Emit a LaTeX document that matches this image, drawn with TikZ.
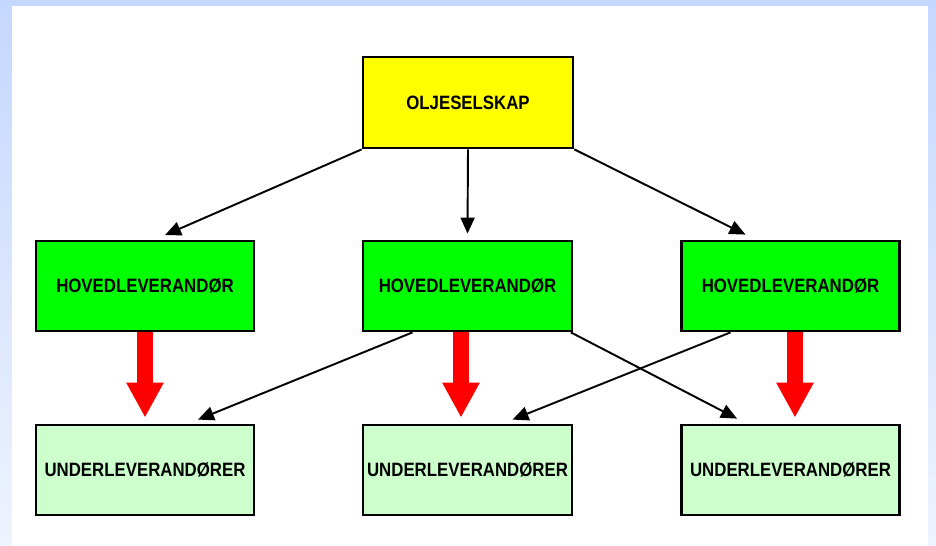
\documentclass[tikz,border=0pt]{standalone}
\usepackage{fontspec}
\setmainfont{Liberation Sans}[FakeStretch=0.87]
\usetikzlibrary{arrows.meta,positioning}
\definecolor{frametop}{HTML}{C4D7FE}
\definecolor{framebot}{HTML}{EEF3FE}
\definecolor{oilyellow}{HTML}{FFFF00}
\definecolor{maingreen}{HTML}{00FF00}
\definecolor{subgreen}{HTML}{CCFFCC}
\begin{document}
\begin{tikzpicture}[x=0.02cm,y=-0.02cm,
  box/.style={draw=black,line width=1.6pt,inner sep=0pt,
    font=\fontsize{11}{13}\selectfont\bfseries},
  oil/.style={box,fill=oilyellow,minimum width=4.2cm,minimum height=1.82cm},
  main/.style={box,fill=maingreen,minimum height=1.8cm},
  sub/.style={box,fill=subgreen,minimum height=1.8cm},
  link/.style={line width=1.1pt,-{Triangle[length=0.32cm,width=0.28cm]}},
  push/.style={red,line width=0.33cm,-{Triangle[length=0.7cm,width=0.7cm]}}]
  % frame
  \useasboundingbox (0,0) rectangle (936,546);
  \shade[top color=frametop,bottom color=framebot] (0,0) rectangle (936,546);
  \fill[white] (12,6) rectangle (928,546);
  % boxes
  \node[oil] (O) at (468,102.5) {OLJESELSKAP};
  \node[main,minimum width=4.36cm] (H1) at (145,286) {HOVEDLEVERANDØR};
  \node[main,minimum width=4.18cm] (H2) at (467.5,286) {HOVEDLEVERANDØR};
  \node[main,minimum width=4.36cm] (H3) at (790.5,286) {HOVEDLEVERANDØR};
  \node[sub,minimum width=4.36cm] (U1) at (145,470) {UNDERLEVERANDØRER};
  \node[sub,minimum width=4.18cm] (U2) at (467.5,470) {UNDERLEVERANDØRER};
  \node[sub,minimum width=4.36cm] (U3) at (790.5,470) {UNDERLEVERANDØRER};
  % contracts
  \draw[link] (O.south west) -- ([xshift=0.4cm,yshift=0.09cm]H1.north);
  \draw[link] (O.south) -- ([yshift=0.12cm]H2.north);
  \draw[link] (O.south east) -- ([xshift=-0.9cm,yshift=0.1cm]H3.north);
  \draw[link] ([xshift=-1.1cm]H2.south) -- ([xshift=1.06cm,yshift=0.08cm]U1.north);
  \draw[link] ([xshift=-0.05cm]H2.south east) -- ([xshift=-1.07cm,yshift=0.1cm]U3.north);
  \draw[link] ([xshift=-1.2cm]H3.south) -- ([xshift=0.9cm,yshift=0.08cm]U2.north);
  % delivery
  \draw[push] (H1.south) -- ([yshift=0.12cm]U1.north);
  \draw[push] ([xshift=-0.13cm]H2.south) -- ([xshift=-0.13cm,yshift=0.12cm]U2.north);
  \draw[push] ([xshift=0.09cm]H3.south) -- ([xshift=0.09cm,yshift=0.12cm]U3.north);
\end{tikzpicture}
\end{document}
